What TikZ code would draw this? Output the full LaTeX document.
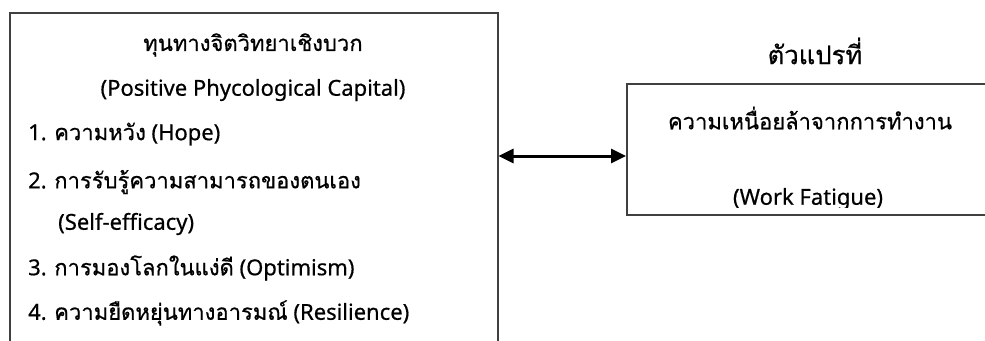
\documentclass[tikz,border=0pt]{standalone}
\usepackage{fontspec}
\setmainfont{Noto Sans}[FakeBold=0.6]
\newfontfamily\thaifont{Loma}[Script=Thai, FakeBold=0.6]
\newcommand{\tht}[1]{{\thaifont\fontsize{22pt}{26pt}\selectfont #1}}
\usetikzlibrary{arrows.meta}
\tikzset{
  boxline/.style={draw=black!75, line width=1.5pt},
  txt/.style={inner sep=0pt, font=\fontsize{22pt}{26pt}\selectfont, text=black},
  link/.style={line width=3pt, {Triangle[length=15pt,width=14pt]}-{Triangle[length=15pt,width=14pt]}}
}
\begin{document}
\begin{tikzpicture}[x=1pt,y=-1pt]
\useasboundingbox (0,0) rectangle (985,340);
\clip (0,0) rectangle (985,340);
\node[boxline, minimum width=488pt, minimum height=360pt, anchor=north west, inner sep=0pt] (L) at (9,12) {};
\node[boxline, minimum width=380pt, minimum height=131pt, anchor=north west, inner sep=0pt] (R) at (626,83) {};
\node[txt] (t1) at (253,45) {\tht{ทุนทางจิตวิทยาเชิงบวก}};
\node[txt] (t2) at (253,90) {(Positive Phycological Capital)};
\node[txt, anchor=west] (i1) at (28,134) {1. \tht{ความหวัง} (Hope)};
\node[txt, anchor=west] (i2) at (28,182) {2. \tht{การรับรู้ความสามารถของตนเอง}};
\node[txt, anchor=west] (i2b) at (58,224) {(Self-efficacy)};
\node[txt, anchor=west] (i3) at (28,268) {3. \tht{การมองโลกในแง่ดี} (Optimism)};
\node[txt, anchor=west] (i4) at (28,313) {4. \tht{ความยืดหยุ่นทางอารมณ์} (Resilience)};
\node[txt] (tt) at (815,51) {{\thaifont\fontsize{25.7pt}{30pt}\selectfont ตัวแปรที่}};
\node[txt] (r1) at (810,118) {\tht{ความเหนื่อยล้าจากการทำงาน}};
\begin{scope}
\clip (626,83) rectangle (985,207);
\node[txt] (r2) at (808,199) {(Work Fatigue)};
\end{scope}
\draw[link] (L.east |- 0,156) -- (R.west |- 0,156);
\end{tikzpicture}
\end{document}
